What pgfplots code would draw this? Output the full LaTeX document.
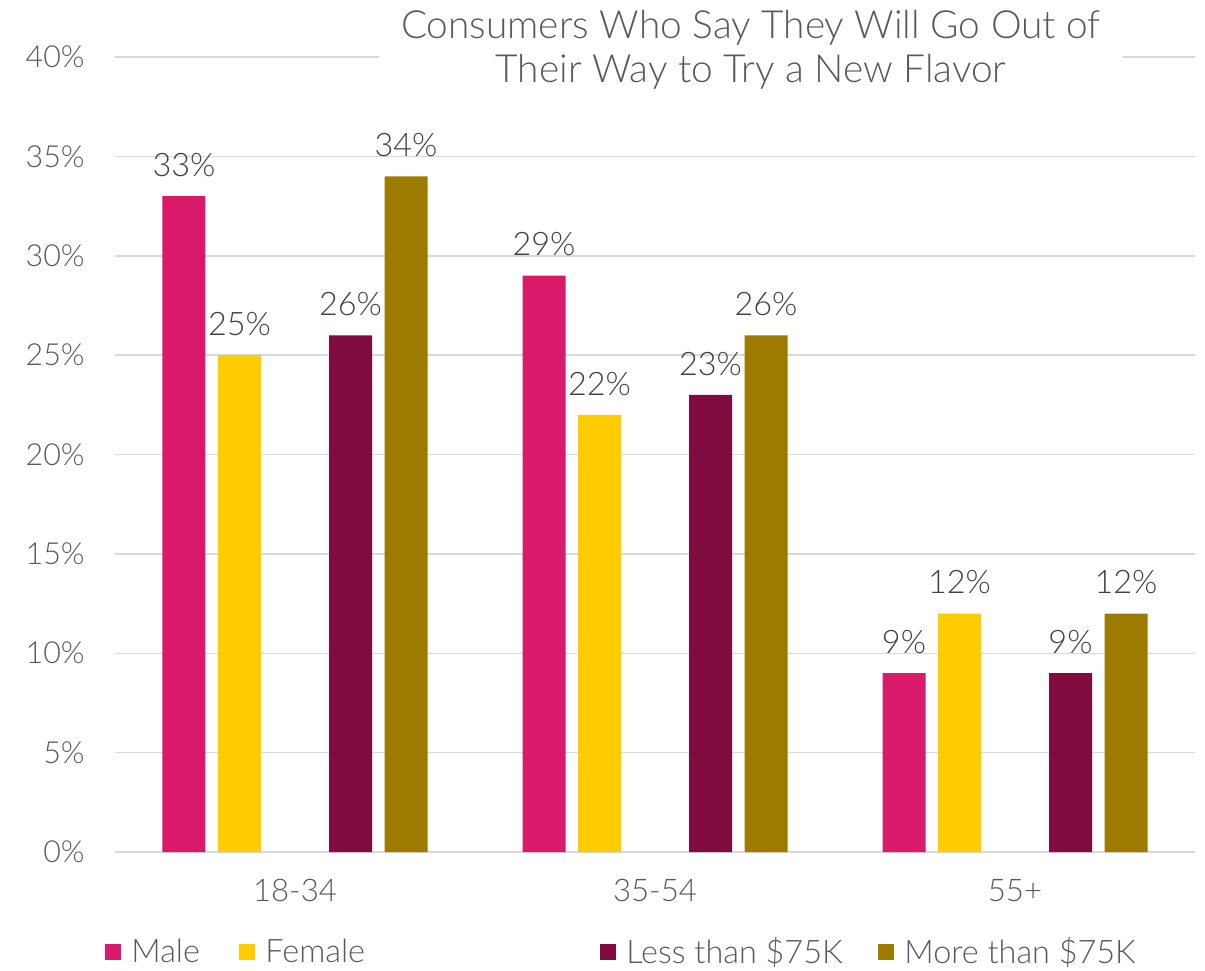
\documentclass[border=0pt]{standalone}
\usepackage{fontspec}
\setmainfont{Lato Light}
\usepackage{pgfplots}
\pgfplotsset{compat=1.18}
\definecolor{cmale}{HTML}{D9196A}
\definecolor{cfemale}{HTML}{FFCC00}
\definecolor{cless}{HTML}{800C3F}
\definecolor{cmore}{HTML}{9C7B00}
\definecolor{gridc}{HTML}{D9D9D9}
\definecolor{txt}{HTML}{595959}
\definecolor{lbl}{HTML}{404040}
\begin{document}
\begin{tikzpicture}
\begin{axis}[
  scale only axis, width=540pt, height=397.5pt,
  xmin=-0.5, xmax=2.5, ymin=0, ymax=40,
  ybar, bar width=21.5pt,
  axis line style={draw=none},
  ymajorgrids, grid style={gridc, line width=0.75pt},
  ytick={0,5,...,40},
  xtick={0,1,2}, xticklabels={18-34,35-54,55+},
  tick style={draw=none},
  /pgf/number format/assume math mode=true,
  yticklabel={\pgfmathprintnumber{\tick}\%},
  yticklabel style={anchor=east, inner sep=0pt, xshift=-15pt, font=\fontsize{15.2}{17}\selectfont, text=txt},
  xticklabel style={anchor=north, inner sep=0pt, yshift=-9pt, font=\fontsize{15.6}{17}\selectfont, text=txt},
  nodes near coords={\pgfmathprintnumber{\pgfplotspointmeta}\%},
  nodes near coords style={anchor=south, inner sep=0pt, yshift=9.5pt, font=\fontsize{16.2}{19}\selectfont, text=lbl},
  legend columns=4,
  legend style={at={(axis description cs:-0.00926,-0.1258)}, anchor=west, draw=none, fill=none, inner sep=0pt,
    nodes={inner sep=0pt}, font=\fontsize{16.2}{19}\selectfont, text=txt,
    /tikz/every odd column/.style={column sep=5pt}},
  legend cell align=left,
  legend image code/.code={\fill[#1] (0pt,-4pt) rectangle (8pt,4pt);},
]
\addplot[fill=cmale, draw=none, bar shift=-55.5pt] coordinates {(0,33) (1,29) (2,9)};
\addlegendentry{\makebox[54pt][l]{Male}}
\addplot[fill=cfemale, draw=none, bar shift=-27.75pt] coordinates {(0,25) (1,22) (2,12)};
\addlegendentry{\makebox[167.5pt][l]{Female}}
\addplot[fill=cless, draw=none, bar shift=27.75pt] coordinates {(0,26) (1,23) (2,9)};
\addlegendentry{\makebox[126pt][l]{Less than \$75K}}
\addplot[fill=cmore, draw=none, bar shift=55.5pt] coordinates {(0,34) (1,26) (2,12)};
\addlegendentry{More than \$75K}
\end{axis}
\node[fill=white, inner xsep=11pt, inner ysep=2pt, align=center, text=txt, font=\fontsize{19.4}{21.8}\selectfont] at (318pt,401pt) {Consumers Who Say They Will Go Out of\\Their Way to Try a New Flavor};
\pgfresetboundingbox
\path[use as bounding box] (-57.5pt,-59pt) rectangle (545pt,426pt);
\end{tikzpicture}
\end{document}
